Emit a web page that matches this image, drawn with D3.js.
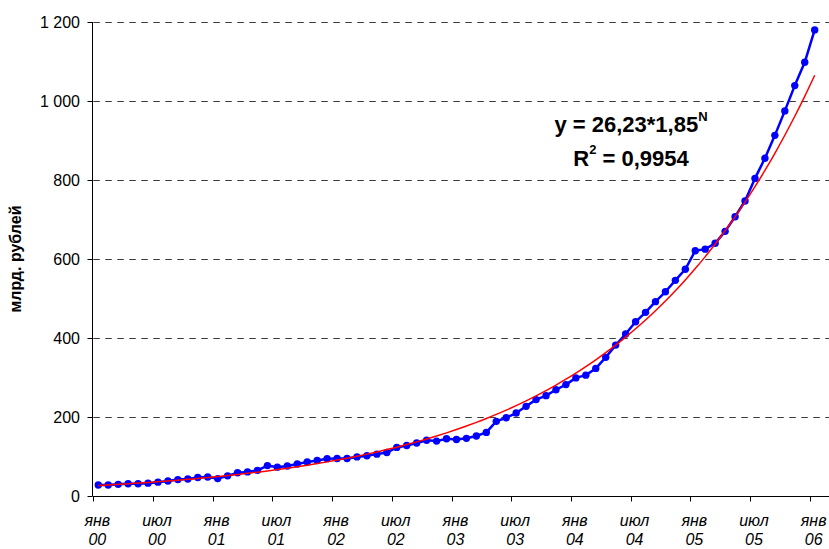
<!DOCTYPE html>
<html><head><meta charset="utf-8">
<script src="https://cdn.jsdelivr.net/npm/d3@7"></script>
<style>body{margin:0;background:#fff;overflow:hidden} svg{display:block}</style>
</head><body><svg id="c" width="829" height="549"></svg>
<script>
const monthNames = ["янв","фев","мар","апр","май","июн","июл","авг","сен","окт","ноя","дек"];
const values = [
  28, 28, 29.5, 31, 31, 32.5, 35, 38, 41.5, 43, 47, 48,
  44, 51, 59, 61, 65, 77, 73, 76, 81, 86, 90, 94.5,
  95, 95, 99, 102, 106, 110, 123, 128, 134, 141, 139, 145,
  143, 146, 152, 161, 189, 198, 210, 227, 244, 254, 269, 282,
  299, 306, 323, 351, 382, 410, 441, 465, 492, 517, 546, 574,
  621, 625, 640, 670, 707, 747, 804, 855, 913, 975, 1039, 1098,
  1180
];
const categories = values.map((v, i) => monthNames[i % 12] + " " + String(Math.floor(i / 12)).padStart(2, "0"));
const yTicks = [0, 200, 400, 600, 800, 1000, 1200];
const yTickLabels = ["0", "200", "400", "600", "800", "1 000", "1 200"];
const xTickLabels = [["янв","00"],["июл","00"],["янв","01"],["июл","01"],["янв","02"],["июл","02"],
  ["янв","03"],["июл","03"],["янв","04"],["июл","04"],["янв","05"],["июл","05"],["янв","06"]];
const trendA = 26.23, trendB = 1.85, trendOffset = 0.25;
const yLabel = "млрд. рублей";

const svg = d3.select("#c");
const plotLeft = 93.3, plotBottom = 496, plotTop = 22, step = 9.95, rightEdge = 830;
const x = d3.scaleBand().domain(categories).range([plotLeft, plotLeft + categories.length * step]).padding(0);
const y = d3.scaleLinear().domain([0, 1200]).range([plotBottom, plotTop]);
const cx = c => x(c) + x.bandwidth() / 2;
const font = "'Liberation Sans', Arial, sans-serif";

// gridlines
svg.append("g").selectAll("line").data(yTicks.filter(t => t > 0)).join("line")
  .attr("x1", plotLeft).attr("x2", rightEdge)
  .attr("y1", d => Math.round(y(d)) + 0.5).attr("y2", d => Math.round(y(d)) + 0.5)
  .attr("stroke", "#3a3a3a").attr("stroke-width", 1).attr("stroke-dasharray", "6.5,5.5");

// y axis
const yAxisX = Math.round(plotLeft) - 0.5;
svg.append("line").attr("x1", yAxisX).attr("x2", yAxisX).attr("y1", plotTop).attr("y2", plotBottom)
  .attr("stroke", "#000").attr("stroke-width", 1);
svg.append("g").selectAll("line").data(yTicks).join("line")
  .attr("x1", yAxisX - 5).attr("x2", yAxisX)
  .attr("y1", d => Math.round(y(d)) + 0.5).attr("y2", d => Math.round(y(d)) + 0.5)
  .attr("stroke", "#000");
svg.append("g").selectAll("text").data(yTicks).join("text")
  .attr("x", 80).attr("y", d => y(d) + 5.8)
  .attr("text-anchor", "end").attr("font-family", font).attr("font-size", 16)
  .text((d, i) => yTickLabels[i]);

// x axis
svg.append("line").attr("x1", yAxisX).attr("x2", rightEdge).attr("y1", plotBottom + 0.5).attr("y2", plotBottom + 0.5)
  .attr("stroke", "#000");
const tickCats = categories.filter((c, i) => i % 6 === 0);
svg.append("g").selectAll("line").data(tickCats).join("line")
  .attr("x1", d => Math.round(x(d)) + 0.5).attr("x2", d => Math.round(x(d)) + 0.5)
  .attr("y1", plotBottom).attr("y2", plotBottom + 5.5).attr("stroke", "#000");
const xl = svg.append("g").selectAll("text").data(tickCats).join("text")
  .attr("text-anchor", "middle").attr("font-family", font).attr("font-size", 16)
  .attr("font-style", "italic");
xl.append("tspan").attr("x", d => cx(d) - 1).attr("y", 526).text((d, i) => xTickLabels[i][0]);
xl.append("tspan").attr("x", d => cx(d) - 1).attr("y", 545.3).text((d, i) => xTickLabels[i][1]);

// y label
svg.append("text").attr("transform", "translate(21,259) rotate(-90)")
  .attr("text-anchor", "middle").attr("font-family", font).attr("font-size", 16)
  .attr("font-weight", "bold").text(yLabel);

// data line
const line = d3.line().x((d, i) => cx(categories[i])).y(d => y(d));
svg.append("path").datum(values).attr("d", line).attr("fill", "none")
  .attr("stroke", "#0000ff").attr("stroke-width", 2.5).attr("stroke-linejoin", "round");
svg.append("g").selectAll("circle").data(values).join("circle")
  .attr("cx", (d, i) => cx(categories[i])).attr("cy", d => y(d)).attr("r", 3.7)
  .attr("fill", "#0000ff");

// trend line
const trend = values.map((v, i) => trendA * Math.pow(trendB, (i + trendOffset) / 12));
const tline = d3.line().x((d, i) => cx(categories[i])).y(d => y(d)).curve(d3.curveMonotoneX);
svg.append("path").datum(trend).attr("d", tline).attr("fill", "none")
  .attr("stroke", "#ff0000").attr("stroke-width", 1.5);

// equation annotation
const eq = svg.append("text").attr("x", 631).attr("y", 132).attr("text-anchor", "middle")
  .attr("font-family", font).attr("font-size", 22).attr("font-weight", "bold");
eq.append("tspan").text("y = " + String(trendA).replace(".", ",") + "*" + String(trendB).replace(".", ","));
eq.append("tspan").attr("font-size", 13).attr("dy", -11.5).text("N");
const r2 = svg.append("text").attr("x", 631).attr("y", 165.5).attr("text-anchor", "middle")
  .attr("font-family", font).attr("font-size", 22).attr("font-weight", "bold");
r2.append("tspan").text("R");
r2.append("tspan").attr("font-size", 13).attr("dy", -11.5).text("2");
r2.append("tspan").attr("dy", 11.5).text(" = 0,9954");
</script></body></html>
